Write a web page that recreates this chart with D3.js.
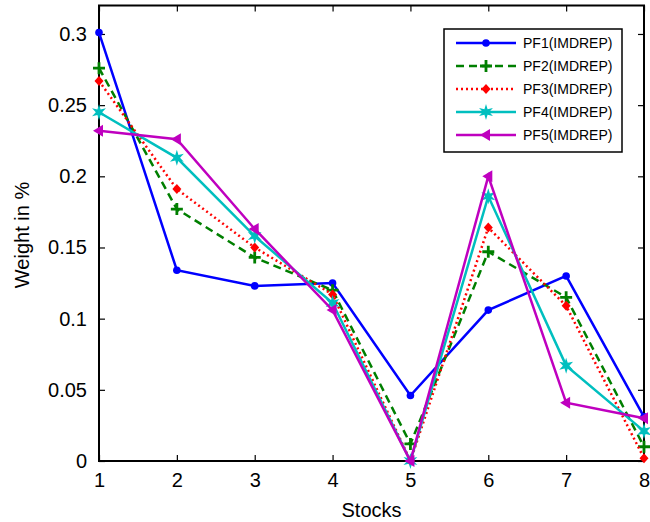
<!DOCTYPE html>
<html>
<head>
<meta charset="utf-8">
<script src="https://cdn.jsdelivr.net/npm/d3@7"></script>
<style>
body { margin: 0; background: #fff; }
text { font-family: "Liberation Sans", Arial, sans-serif; }
</style>
</head>
<body>
<svg id="chart" width="650" height="522"></svg>
<script>
const stocks = [1, 2, 3, 4, 5, 6, 7, 8];
const seriesNames = ["PF1(IMDREP)", "PF2(IMDREP)", "PF3(IMDREP)", "PF4(IMDREP)", "PF5(IMDREP)"];
const pf1 = [0.301, 0.134, 0.123, 0.125, 0.046, 0.106, 0.130, 0.031];
const pf2 = [0.276, 0.177, 0.143, 0.120, 0.012, 0.147, 0.115, 0.010];
const pf3 = [0.267, 0.191, 0.150, 0.117, 0.000, 0.164, 0.109, 0.002];
const pf4 = [0.245, 0.213, 0.158, 0.111, 0.000, 0.186, 0.067, 0.021];
const pf5 = [0.232, 0.226, 0.163, 0.106, 0.000, 0.200, 0.041, 0.030];
const yTicks = [0, 0.05, 0.1, 0.15, 0.2, 0.25, 0.3];

const styles = [
  { color: "#0000ff", dash: null, marker: "circle" },
  { color: "#007f00", dash: "8,5", marker: "plus" },
  { color: "#ff0000", dash: "2,3", marker: "diamond" },
  { color: "#00bfbf", dash: null, marker: "hexagram" },
  { color: "#bf00bf", dash: null, marker: "triangleLeft" }
];
const series = [pf1, pf2, pf3, pf4, pf5];

const svg = d3.select("#chart");
const L = 99, R = 644, T = 5.5, B = 461;
const x = d3.scaleLinear().domain([1, 8]).range([L, R]);
const y = d3.scaleLinear().domain([0, 0.32]).range([B, T]);

// plot box
svg.append("rect").attr("x", L).attr("y", T).attr("width", R - L).attr("height", B - T)
  .attr("fill", "none").attr("stroke", "#000").attr("stroke-width", 2);

// axes (ticks inward, mirrored)
const fmt = d => d === 0 ? "0" : String(d);
const xAxis = svg.append("g").attr("transform", `translate(0,${B})`)
  .call(d3.axisBottom(x).tickValues(stocks).tickSizeInner(-6).tickSizeOuter(0).tickPadding(12).tickFormat(d3.format("d")));
const xTop = svg.append("g").attr("transform", `translate(0,${T})`)
  .call(d3.axisTop(x).tickValues(stocks).tickSizeInner(-6).tickSizeOuter(0).tickFormat(""));
const yAxis = svg.append("g").attr("transform", `translate(${L},0)`)
  .call(d3.axisLeft(y).tickValues(yTicks).tickSizeInner(-6).tickSizeOuter(0).tickPadding(12).tickFormat(fmt));
const yRight = svg.append("g").attr("transform", `translate(${R},0)`)
  .call(d3.axisRight(y).tickValues(yTicks).tickSizeInner(-6).tickSizeOuter(0).tickFormat(""));
svg.selectAll(".domain").remove();
svg.selectAll(".tick line").attr("stroke", "#000").attr("stroke-width", 1.2);
svg.selectAll(".tick text").attr("fill", "#000").style("font-size", "20px")
  .style("font-family", "'Liberation Sans', Arial, sans-serif");

svg.append("text").attr("x", (L + R) / 2).attr("y", 517).attr("text-anchor", "middle")
  .style("font-size", "20px").text("Stocks");
svg.append("text").attr("transform", "translate(29,235) rotate(-90)").attr("text-anchor", "middle")
  .style("font-size", "20px").text("Weight in %");

function drawMarker(g, type, color) {
  if (type === "circle") {
    g.append("circle").attr("r", 3.8).attr("fill", color);
  } else if (type === "plus") {
    g.append("path").attr("d", "M-6,0H6M0,-6V6").attr("stroke", color).attr("stroke-width", 2.8).attr("fill", "none");
  } else if (type === "diamond") {
    g.append("path").attr("d", "M0,-5L4.5,0L0,5L-4.5,0Z").attr("fill", color);
  } else if (type === "hexagram") {
    const pts = d3.range(12).map(i => {
      const a = -Math.PI / 2 + i * Math.PI / 6;
      const r = i % 2 === 0 ? 8 : 3.2;
      return [r * Math.cos(a), r * Math.sin(a)];
    });
    g.append("path").attr("d", "M" + pts.join("L") + "Z").attr("fill", color);
  } else if (type === "triangleLeft") {
    g.append("path").attr("d", "M-6,0L4,-6L4,6Z").attr("fill", color);
  }
}

const line = d3.line().x((d, i) => x(stocks[i])).y(d => y(d));
const plot = svg.append("g");
series.forEach((vals, k) => {
  const s = styles[k];
  plot.append("path").datum(vals).attr("d", line)
    .attr("fill", "none").attr("stroke", s.color).attr("stroke-width", 2.5)
    .attr("stroke-dasharray", s.dash).attr("stroke-linejoin", "miter");
  vals.forEach((v, i) => {
    const g = plot.append("g").attr("transform", `translate(${x(stocks[i])},${y(v)})`);
    drawMarker(g, s.marker, s.color);
  });
});

// legend
const lg = svg.append("g");
lg.append("rect").attr("x", 444).attr("y", 29).attr("width", 178).attr("height", 123)
  .attr("fill", "#fff").attr("stroke", "#000").attr("stroke-width", 1.5);
seriesNames.forEach((name, k) => {
  const s = styles[k];
  const yy = 43 + k * 23;
  lg.append("line").attr("x1", 456).attr("x2", 516).attr("y1", yy).attr("y2", yy)
    .attr("stroke", s.color).attr("stroke-width", 2.5).attr("stroke-dasharray", s.dash);
  drawMarker(lg.append("g").attr("transform", `translate(486,${yy})`), s.marker, s.color);
  lg.append("text").attr("x", 523).attr("y", yy + 5).style("font-size", "14px").text(name);
});
</script>
</body>
</html>
